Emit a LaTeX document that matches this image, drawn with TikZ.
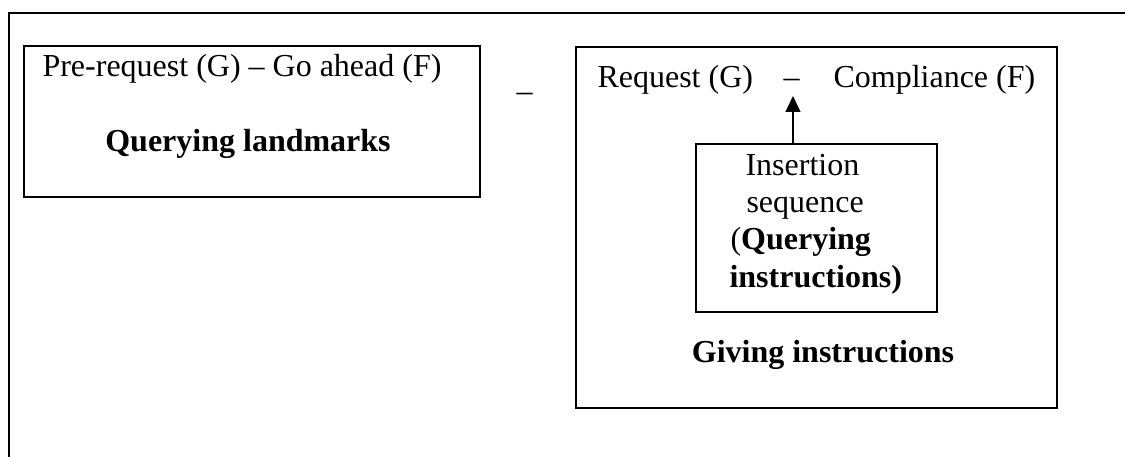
\documentclass[tikz,border=0pt]{standalone}
\usepackage{fontspec}
\setmainfont{Liberation Serif}
\usetikzlibrary{fit,arrows.meta}
\begin{document}
\begin{tikzpicture}[x=0.375pt,y=-0.375pt,
  box/.style={draw,line width=0.6pt,inner sep=0pt},
  txt/.style={inner sep=0pt,font=\fontsize{12}{13.8}\selectfont},
  frameline/.style={line width=1pt}]
\useasboundingbox (0,0) rectangle (1125,457);
% outer frame (cut by the page on right and bottom)
\coordinate (fbl) at (9,460);
\coordinate (ftl) at (9,13);
\coordinate (ftr) at (1128,13);
\draw[frameline] (fbl) -- (ftl) -- (ftr);
% boxes
\node[box,fit={(24,46) (480,197)}] (lbox) {};
\node[box,fit={(576,47) (1057,408)}] (rbox) {};
\node[box,fit={(696,144) (937,312)}] (ins) {};
% left box text
\node[txt,anchor=base west] (pre) at (42,77) {Pre-request (G) – Go ahead (F)};
\node[txt,anchor=base,font=\fontsize{12}{13.8}\selectfont\bfseries] (ql) at (248,152) {Querying landmarks};
% separator
\node[txt,anchor=base] (sep) at (524.5,102) {–};
% right box text
\node[txt,anchor=base west] (req) at (597,88) {Request (G)};
\node[txt,anchor=base] (dash) at (791.5,88) {–};
\node[txt,anchor=base west] (comp) at (833,88) {Compliance (F)};
% inner box text
\node[txt,anchor=base west] (i1) at (745,176) {Insertion};
\node[txt,anchor=base west] (i2) at (746,213) {sequence};
\node[txt,anchor=base west] (i3) at (730,250) {(\textbf{Querying}};
\node[txt,anchor=base west] (i4) at (729,288) {\textbf{instructions)}};
\node[txt,anchor=base,font=\fontsize{12}{13.8}\selectfont\bfseries] (gi) at (823,363) {Giving instructions};
% arrow
\coordinate (tip) at (793,96);
\draw[line width=0.6pt,-{Triangle[length=6pt,width=5.6pt]}] (tip |- ins.north) -- (tip);
\end{tikzpicture}
\end{document}
